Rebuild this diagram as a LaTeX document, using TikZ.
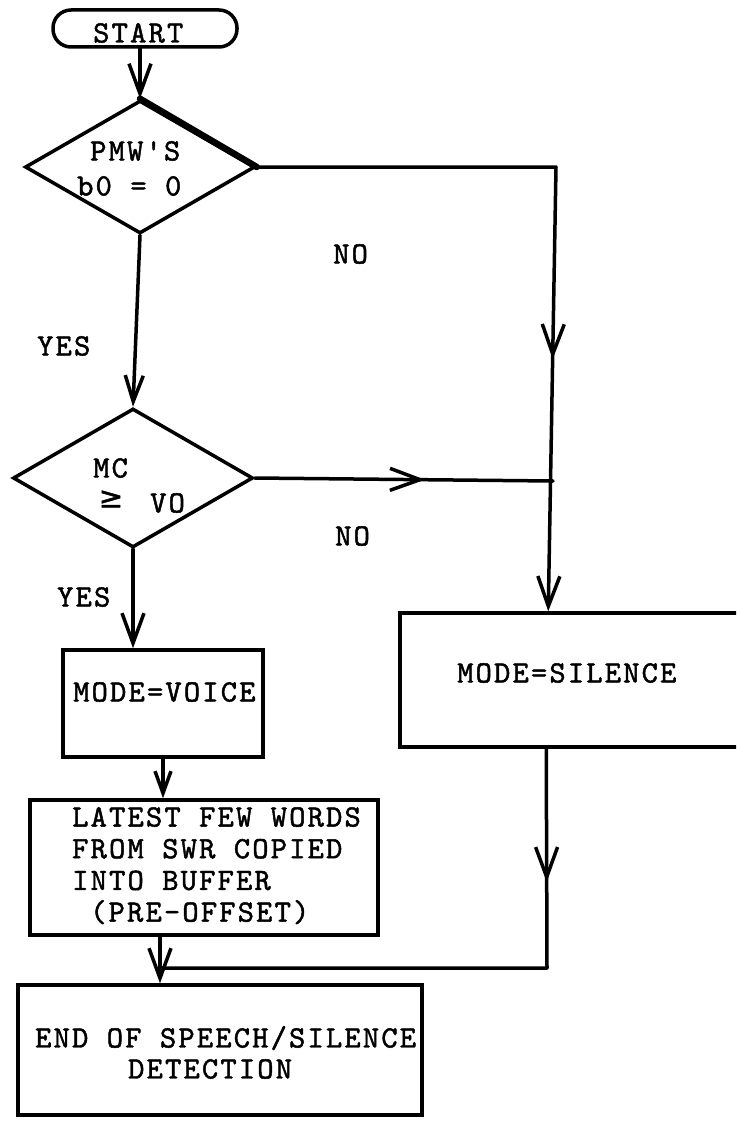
\documentclass[tikz,border=0pt]{standalone}
\usepackage{fontspec}
\usetikzlibrary{shapes.geometric,arrows.meta,decorations.markings,calc}
\newfontfamily\symfont{DejaVu Sans}[FakeBold=1.5]
\newfontfamily\twf{lmmono10-regular}[Extension=.otf, LetterSpace=7, FakeBold=1.5]
\newcommand\twfont{\twf\fontsize{31}{31.7}\selectfont}
\newcommand\gesym{\symfont\fontsize{29}{29}\selectfont ≥}
\begin{document}
\begin{tikzpicture}[x=1pt,y=-1pt,
  ln/.style={line width=3.5pt, line cap=round, line join=round},
  tipend/.style={-{Straight Barb[length=30pt,width=22pt]}},
  boxst/.style={draw, line width=3.5pt, rectangle, inner sep=0pt},
  dia/.style={draw, line width=3.5pt, diamond, inner sep=0pt},
  txt/.style={font=\twfont, inner sep=0pt, anchor=west},
  midarrow/.style={postaction={decorate}, decoration={markings,
     mark=at position #1 with {\arrow{Straight Barb[length=30pt,width=22pt]}}}},
]
\useasboundingbox (0,0) rectangle (736,1121);
\clip (0,0) rectangle (736,1121);

% ---- shapes
\node[boxst, rounded corners=18pt, minimum width=184pt, minimum height=37pt] (start) at (145,28.5) {};
\node[dia, minimum width=230pt, minimum height=133pt] (d1) at (140,167) {};
\draw[line width=6.5pt, line cap=round] (d1.north) -- (d1.east);
\node[dia, minimum width=240pt, minimum height=139pt] (d2) at (133,478) {};
\node[boxst, minimum width=200pt, minimum height=107pt] (voice) at (163,703.5) {};
\node[boxst, minimum width=348pt, minimum height=135pt] (latest) at (204,867.5) {};
\node[boxst, minimum width=404pt, minimum height=130pt] (endb) at (220,1050) {};
\node[boxst, minimum width=380pt, minimum height=134pt] (sil) at (590,680) {};

% ---- texts
\node[txt] (tstart) at (93,33) {START};
\node[txt] (tpmw) at (90,151) {PMW'S};
\node[txt] (tb0) at (77,186) {b0 = 0};
\node[txt] (tmc) at (93,468) {MC};
\node[inner sep=0pt, font=\gesym] (tge) at (111,499) {};
\node[txt] (tvo) at (150,503) {VO};
\node[txt] (tno1) at (333,254) {NO};
\node[txt] (tno2) at (335,536) {NO};
\node[txt] (tyes1) at (37,346) {YES};
\node[txt] (tyes2) at (57,597) {YES};
\node[txt] (tvoice) at (73,692) {MODE=VOICE};
\node[txt, anchor=north west, align=left] (tlatest) at (72,807)
  {LATEST FEW WORDS\\FROM SWR COPIED\\INTO BUFFER\\\hspace{18pt}(PRE-OFFSET)};
\node[txt] (tsil) at (457,673) {MODE=SILENCE};
\node[txt] (tend1) at (35,1038) {END OF SPEECH/SILENCE};
\node[txt] (tend2) at (128,1069) {DETECTION};

% ---- connectors
\coordinate (r1) at (556,167);
\coordinate (j1) at (553,481);
\coordinate (r3) at (547,968);
\coordinate (j2) at (160,968);

\draw[ln, tipend] (start.south -| d1.north) -- (d1.north);
\draw[ln, -{Straight Barb[length=26pt,width=18pt]}] (d1.south) -- (d2.north);
\draw[ln, tipend, midarrow=0.661] (d1.east) -- (r1) -- ([xshift=150pt]sil.north west);
\draw[ln, midarrow=0.571] (d2.east) -- (j1);
\draw[ln, tipend] (d2.south) -- (d2.south |- voice.north);
\draw[ln, -{Straight Barb[length=22pt,width=16pt]}] (voice.south) -- (voice.south |- latest.north);
\draw[ln, tipend] ([xshift=-44pt]latest.south) -- ([xshift=-60pt]endb.north);
\draw[ln, midarrow=0.22] ([xshift=148pt]sil.south west) -- (r3) -- (j2);
\end{tikzpicture}
\end{document}
